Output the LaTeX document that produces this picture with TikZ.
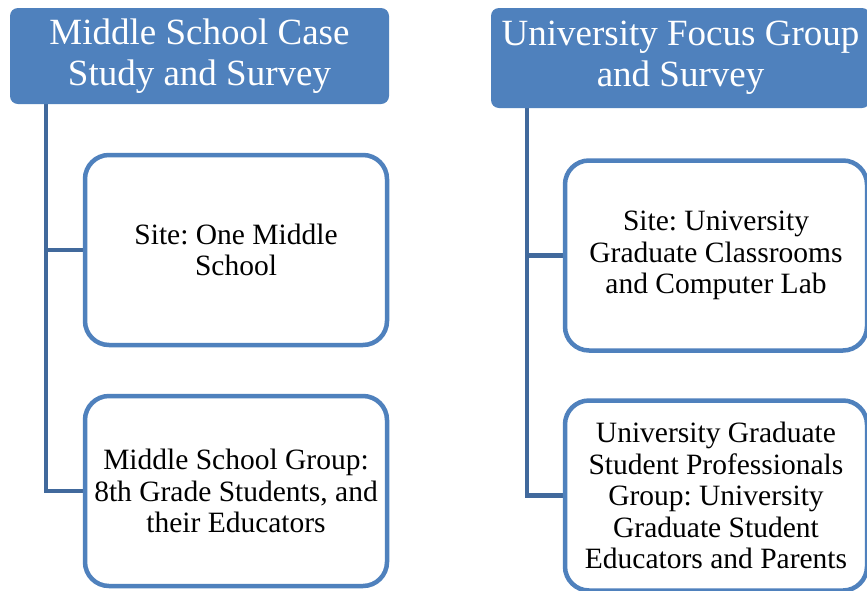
\documentclass[tikz,border=0pt]{standalone}
\usepackage{fontspec}
\setmainfont{Liberation Serif}
\usetikzlibrary{backgrounds}
\definecolor{hblue}{HTML}{4F81BD}
\definecolor{lblue}{HTML}{41699C}
\frenchspacing
\begin{document}
\begin{tikzpicture}[x=1pt,y=-1pt,
  hdr/.style={fill=hblue, draw=none, rounded corners=8pt, text=white,
    font=\fontsize{37}{41}\selectfont\frenchspacing, align=center, inner sep=0pt},
  subbox/.style={draw=hblue, line width=4.5pt, rounded corners=24pt, fill=white,
    font=\fontsize{29.5}{31.5}\selectfont\frenchspacing, align=center, inner sep=0pt,
    minimum width=302pt, minimum height=190pt},
  conn/.style={draw=lblue, line width=4.5pt}]
\useasboundingbox (0,0) rectangle (867,590);
\clip (0,0) rectangle (867,590);
% headers
\node[hdr, minimum width=379pt, minimum height=96pt] (h1) at (199.5,56) {Middle School Case\\Study and Survey};
\node[hdr, minimum width=379pt, minimum height=100pt] (h2) at (680.5,58) {University Focus Group\\and Survey};
% boxes
\node[subbox] (b1) at (236,250) {Site: One Middle\\School};
\node[subbox] (b2) at (236,491) {Middle School Group:\\8th Grade Students, and\\their Educators};
\node[subbox] (b3) at (716,255.5) {Site: University\\Graduate Classrooms\\and Computer Lab};
\node[subbox] (b4) at (716,495.5) {University Graduate\\Student Professionals\\Group: University\\Graduate Student\\Educators and Parents};
% connectors
\coordinate (l1) at (46,100);
\coordinate (r1) at (527,104);
\begin{scope}[on background layer]
\fill[white] (0,0) rectangle (867,590);
\draw[conn] (l1) |- (b2.west);
\draw[conn] (l1 |- b1.west) -- (b1.west);
\draw[conn] (r1) |- (b4.west);
\draw[conn] (r1 |- b3.west) -- (b3.west);
\end{scope}
\end{tikzpicture}
\end{document}
